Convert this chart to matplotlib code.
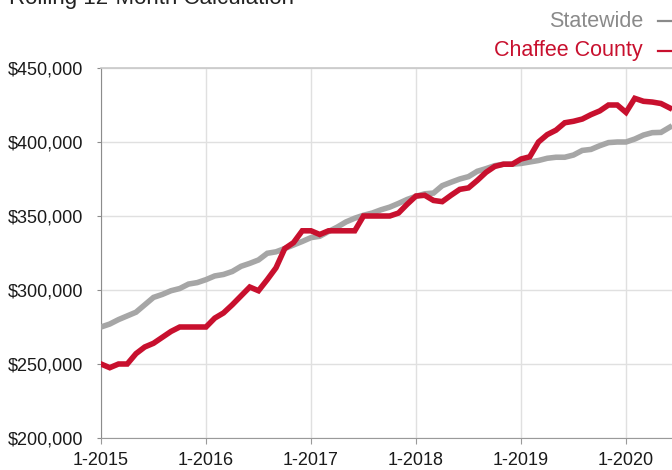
import matplotlib
matplotlib.use("Agg")
import matplotlib.pyplot as plt
from matplotlib.lines import Line2D
from matplotlib.ticker import FuncFormatter, MultipleLocator

plt.rcParams['font.family'] = ['Liberation Sans', 'DejaVu Sans']

title = "Rolling 12-Month Calculation"
series_names = ["Statewide", "Chaffee County"]
tick_labels = ["1-2015", "1-2016", "1-2017", "1-2018", "1-2019", "1-2020"]

# Monthly values, Jan 2015 .. Jun 2020
statewide = [
    275000, 277000, 280000, 282500, 285000, 290000, 295000, 297000, 299500, 301000, 304000, 305000,
    307000, 309500, 310500, 312500, 316000, 318000, 320300, 324800, 325800, 328000, 330400, 332800,
    335400, 336300, 339500, 342500, 346000, 348500, 350500, 352000, 354200, 356000, 358500, 361200,
    363300, 365000, 365500, 370500, 372800, 375000, 376600, 380200, 382000, 384000, 385000, 385000,
    385500, 386500, 387500, 389000, 389700, 389700, 391200, 394300, 395000, 397500, 399600, 400000,
    400000, 402000, 404700, 406300, 406500, 410000,
]
chaffee = [
    250000, 247500, 250000, 250000, 257000, 261500, 264000, 268000, 272000, 275000, 275000, 275000,
    275000, 281000, 284500, 290000, 296000, 302000, 299500, 307000, 315000, 328000, 332000, 340000,
    340000, 337500, 340000, 340000, 340000, 340000, 350000, 350000, 350000, 350000, 352000, 358000,
    363500, 364000, 360500, 359700, 364000, 368000, 369000, 374000, 379500, 383500, 385000, 385000,
    388500, 390000, 400000, 405000, 408000, 413000, 414000, 415500, 418500, 421000, 425000, 425000,
    420000, 429500, 427500, 427000, 426000, 423000,
]

GRAY = "#a6a6a6"
RED = "#c8102e"

W, H = 672, 470
fig = plt.figure(figsize=(W / 100, H / 100), dpi=100)
ax = fig.add_axes([101 / W, 32 / H, 571 / W, 370 / H])

ax.plot(list(range(len(statewide))), statewide, color=GRAY, lw=4.0, solid_joinstyle='miter', zorder=3)
ax.plot(list(range(len(chaffee))), chaffee, color=RED, lw=4.0, solid_joinstyle='miter', zorder=4)

ax.set_xlim(0, 571 / 8.75)
ax.set_ylim(200000, 450000)
ax.yaxis.set_major_locator(MultipleLocator(50000))
ax.yaxis.set_major_formatter(FuncFormatter(lambda v, p: f"${v:,.0f}"))
ax.set_xticks([12 * i for i in range(len(tick_labels))])
ax.set_xticklabels(tick_labels)

ax.grid(True, color="#e0e0e0", lw=1.0, zorder=0)
ax.set_axisbelow(True)
ax.spines["right"].set_visible(False)
ax.spines["top"].set_color("#c8c8c8")
ax.spines["top"].set_linewidth(1.2)
ax.spines["left"].set_color("#8c8c8c")
ax.spines["bottom"].set_color("#9a9a9a")
ax.tick_params(axis='y', length=3, width=0.8, color="#8c8c8c", pad=10, labelsize=13, labelcolor="#1a1a1a")
ax.tick_params(axis='x', length=4, width=0.8, color="#9a9a9a", pad=6, labelsize=13, labelcolor="#1a1a1a")

fig.text(9 / W, 1 - 4 / H, title, fontsize=16, color="#222222", va='baseline', ha='left')

fig.text(643 / W, 1 - 27 / H, series_names[0], fontsize=15.5, color="#8a8a8a", va='baseline', ha='right')
fig.text(643 / W, 1 - 56 / H, series_names[1], fontsize=15.5, color=RED, va='baseline', ha='right')
fig.add_artist(Line2D([658 / W, 690 / W], [1 - 21 / H, 1 - 21 / H], color="#8a8a8a", lw=1.6, transform=fig.transFigure))
fig.add_artist(Line2D([658 / W, 690 / W], [1 - 51 / H, 1 - 51 / H], color=RED, lw=1.6, transform=fig.transFigure))

fig.savefig("out.png", dpi=100)
